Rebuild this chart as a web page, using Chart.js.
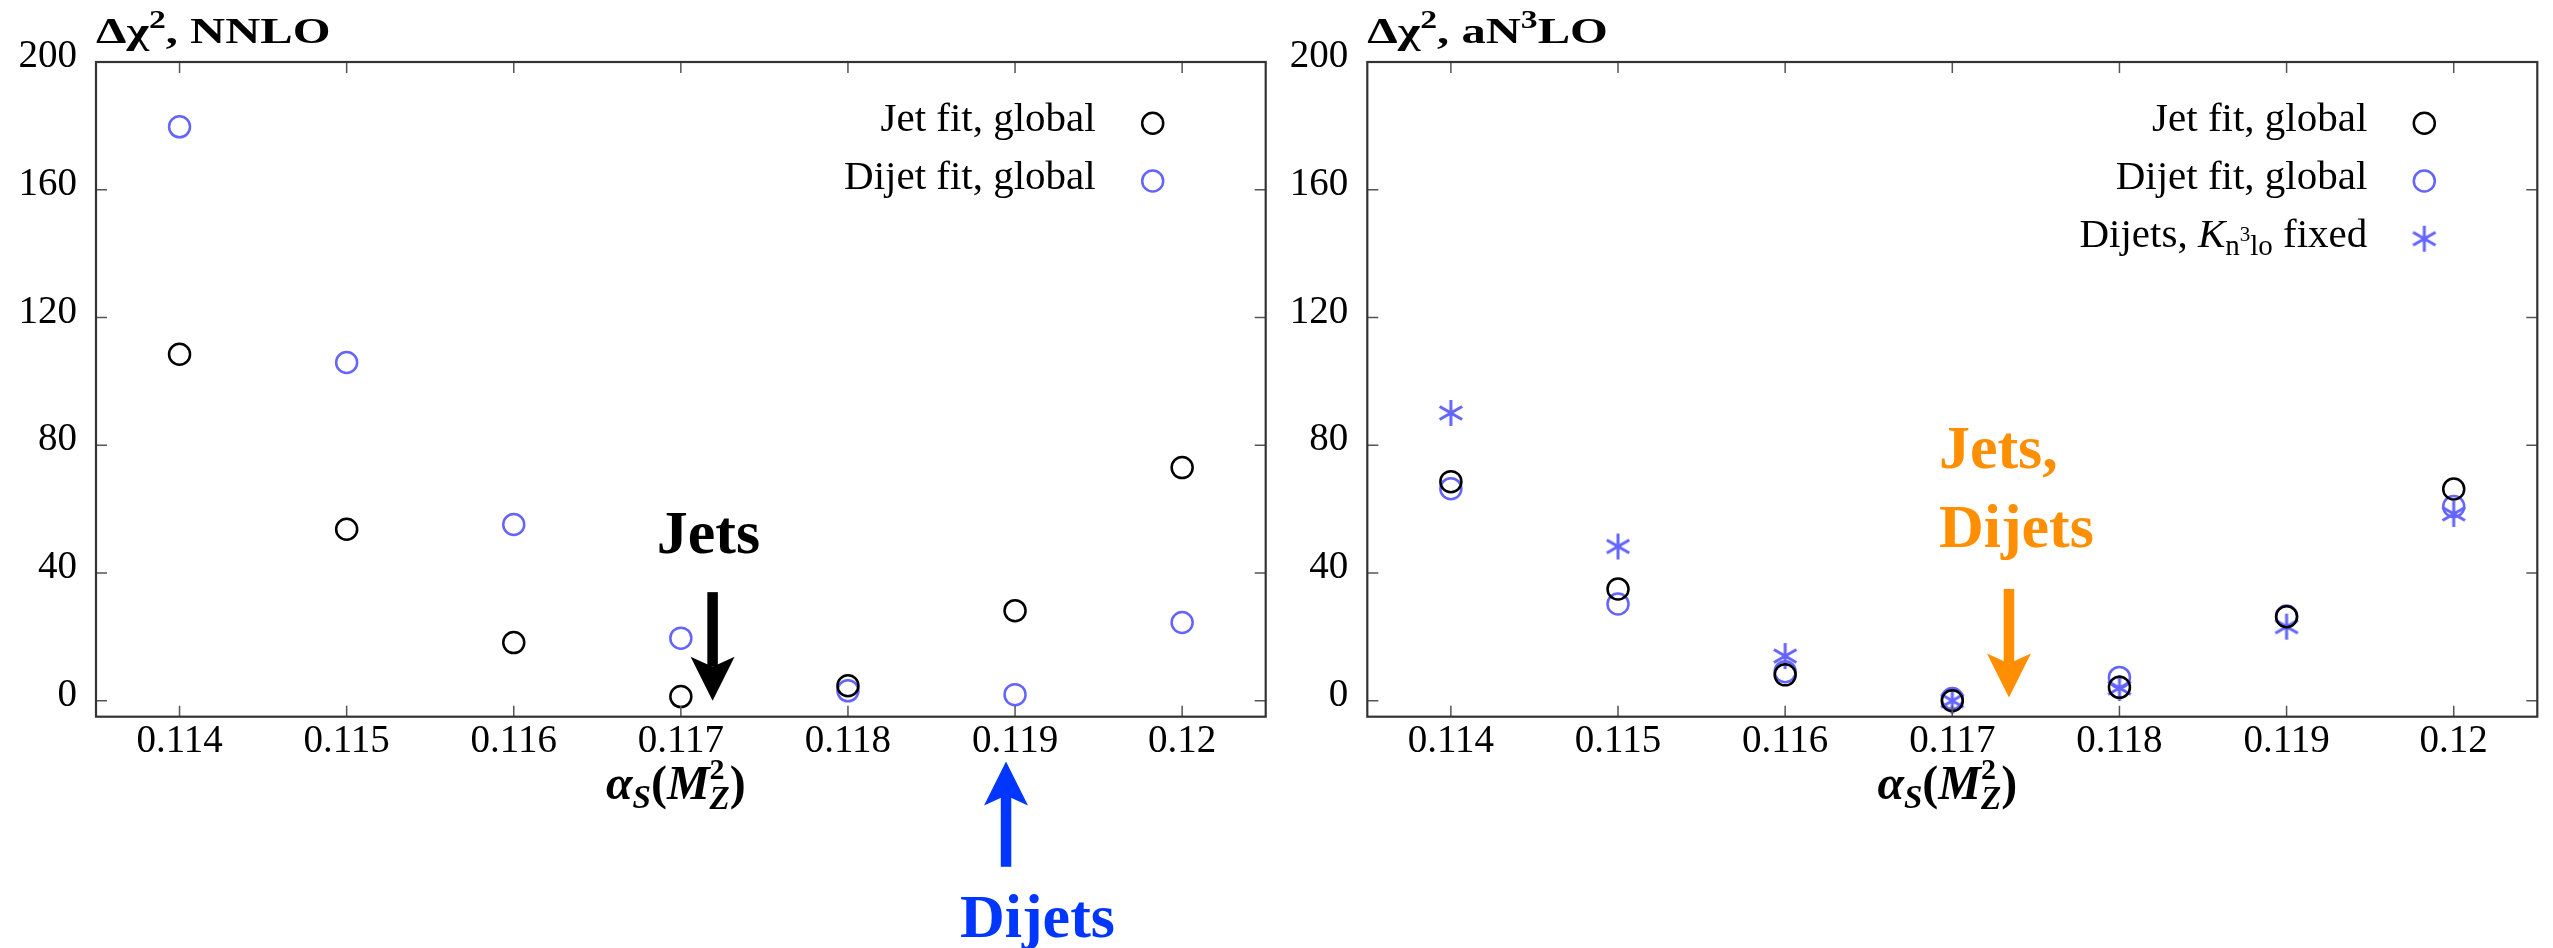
<!DOCTYPE html>
<html>
<head>
<meta charset="utf-8">
<script src="https://cdn.jsdelivr.net/npm/chart.js@4.4.1/dist/chart.umd.min.js"></script>
<style>
  body { margin: 0; background: #fff; }
  .panel { position: absolute; top: 0; height: 948px; }
  #left { left: 0; width: 1280px; }
  #right { left: 1280px; width: 1273px; }
</style>
</head>
<body>
<div class="panel" id="left"><canvas id="nnloChart"></canvas></div>
<div class="panel" id="right"><canvas id="n3loChart"></canvas></div>
<script>
const alphaS = [0.114, 0.115, 0.116, 0.117, 0.118, 0.119, 0.120];
const xTicks = [0.114, 0.115, 0.116, 0.117, 0.118, 0.119, 0.120];
const xTickLabels = ['0.114', '0.115', '0.116', '0.117', '0.118', '0.119', '0.12'];
const yTicks = [0, 40, 80, 120, 160, 200];

// delta chi2 at NNLO
const nnloJetFit = [108.5, 53.7, 18.2, 1.3, 4.7, 28.2, 73.0];
const nnloDijetFit = [179.7, 105.9, 55.2, 19.6, 3.1, 1.9, 24.5];

// delta chi2 at aN3LO
const n3loJetFit = [68.6, 35.0, 8.1, 0.0, 4.2, 26.3, 66.3];
const n3loDijetFit = [66.4, 30.3, 9.1, 0.7, 7.3, 26.5, 60.8];
const n3loDijetFixed = [90.1, 48.3, 14.0, 0.0, 4.0, 23.2, 58.5];

const SERIF = '"Liberation Serif", "DejaVu Serif", serif';
const BLUE = '#6464ff';

function pts(ys) {
	return alphaS.map((x, i) => ({ x: x, y: ys[i] }));
}

// six-armed asterisk marker
function asterisk(color) {
	const c = document.createElement('canvas');
	c.width = 34; c.height = 34;
	const g = c.getContext('2d');
	g.strokeStyle = color;
	g.lineWidth = 3;
	g.beginPath();
	for (let a of [90, 30, -30]) {
		const r = a * Math.PI / 180;
		const dx = Math.cos(r) * 13, dy = Math.sin(r) * 13;
		g.moveTo(17 - dx, 17 - dy);
		g.lineTo(17 + dx, 17 + dy);
	}
	g.stroke();
	return c;
}
const starMark = asterisk(BLUE);

function f(style, size) {
	return `${style || 'normal'} ${size}px ${SERIF}`;
}

// text made of several font runs (sub/superscripts); "over" puts a run above the previous one
function runsLayout(ctx, runs) {
	let w = 0, prevW = 0;
	const items = [];
	for (const r of runs) {
		ctx.font = r.font;
		const rw = ctx.measureText(r.t).width;
		if (r.over) {
			items.push({ r: r, x: w - prevW });
			w += Math.max(0, rw - prevW);
		} else {
			items.push({ r: r, x: w });
			w += rw;
			prevW = rw;
		}
	}
	return { items: items, width: w };
}

function drawRuns(ctx, runs, x, y, align) {
	const lay = runsLayout(ctx, runs);
	let x0 = x;
	if (align === 'right') x0 = x - lay.width;
	if (align === 'center') x0 = x - lay.width / 2;
	ctx.textAlign = 'left';
	ctx.textBaseline = 'alphabetic';
	for (const it of lay.items) {
		ctx.font = it.r.font;
		ctx.fillText(it.r.t, x0 + it.x, y + (it.r.dy || 0));
	}
}

function drawArrow(ctx, x, yTail, yTip, color) {
	const dir = Math.sign(yTip - yTail);
	const headLen = 44, headHalf = 22, notch = 10, shaft = 10.5;
	const yNeck = yTip - dir * (headLen - notch);
	ctx.fillStyle = color;
	ctx.fillRect(x - shaft / 2, Math.min(yTail, yNeck), shaft, Math.abs(yNeck - yTail));
	ctx.beginPath();
	ctx.moveTo(x, yTip);
	ctx.lineTo(x - headHalf, yTip - dir * headLen);
	ctx.lineTo(x, yNeck);
	ctx.lineTo(x + headHalf, yTip - dir * headLen);
	ctx.closePath();
	ctx.fill();
}

const axisTitle = [
	{ t: 'α', font: f('italic bold', 48) },
	{ t: 'S', font: f('italic bold', 33), dy: 9 },
	{ t: '(', font: f('bold', 48) },
	{ t: 'M', font: f('italic bold', 48) },
	{ t: 'Z', font: f('italic bold', 33), dy: 10 },
	{ t: '2', font: f('bold', 30), dy: -20, over: true },
	{ t: ')', font: f('bold', 48) },
];

// closed box with inward ticks on all four sides
const framePlugin = {
	id: 'frame',
	afterDraw(chart) {
		const { ctx, chartArea: ca, scales: { x, y } } = chart;
		ctx.save();
		ctx.strokeStyle = '#555';
		ctx.lineWidth = 1.5;
		ctx.beginPath();
		for (let v of xTicks) {
			const px = x.getPixelForValue(v);
			ctx.moveTo(px, ca.bottom); ctx.lineTo(px, ca.bottom - 11);
			ctx.moveTo(px, ca.top); ctx.lineTo(px, ca.top + 11);
		}
		for (let v of yTicks) {
			const py = y.getPixelForValue(v);
			ctx.moveTo(ca.left, py); ctx.lineTo(ca.left + 11, py);
			ctx.moveTo(ca.right, py); ctx.lineTo(ca.right - 11, py);
		}
		ctx.stroke();
		ctx.strokeStyle = '#333';
		ctx.lineWidth = 2.2;
		ctx.strokeRect(ca.left, ca.top, ca.right - ca.left, ca.bottom - ca.top);
		ctx.restore();
	}
};

// heading, axis title, legend and arrows
const notesPlugin = {
	id: 'notes',
	afterDraw(chart, args, opts) {
		const { ctx, chartArea: ca, scales: { x, y } } = chart;
		ctx.save();
		ctx.fillStyle = '#000';

		ctx.save();
		ctx.translate(ca.left, 43);
		ctx.scale(1.35, 1);
		drawRuns(ctx, opts.heading, 0, 0, 'left');
		ctx.restore();

		drawRuns(ctx, axisTitle, (ca.left + ca.right) / 2 - 5, ca.bottom + 82, 'center');

		chart.data.datasets.forEach((ds, i) => {
			const my = ca.top + 61.3 + i * 57.7;
			const mx = ca.right - 113;
			ctx.fillStyle = '#000';
			drawRuns(ctx, opts.legend[i], mx - 57, my + 8, 'right');
			if (ds.pointStyle === 'circle') {
				ctx.strokeStyle = ds.borderColor;
				ctx.lineWidth = ds.borderWidth;
				ctx.beginPath();
				ctx.arc(mx, my, ds.pointRadius, 0, Math.PI * 2);
				ctx.stroke();
			} else {
				ctx.drawImage(ds.pointStyle, mx - 17, my - 17);
			}
		});

		for (let a of opts.arrows) {
			drawArrow(ctx, x.getPixelForValue(a.x), y.getPixelForValue(a.from), y.getPixelForValue(a.to), a.color);
		}
		for (let w of opts.words) {
			ctx.fillStyle = w.color;
			ctx.font = f('bold', 62);
			ctx.textAlign = w.align;
			ctx.textBaseline = 'alphabetic';
			ctx.fillText(w.text, x.getPixelForValue(w.x), y.getPixelForValue(w.y));
		}
		ctx.restore();
	}
};

function circleSet(label, values, color) {
	return {
		label: label,
		data: pts(values),
		pointStyle: 'circle',
		pointRadius: 10.5,
		borderWidth: 2.5,
		borderColor: color,
		backgroundColor: 'rgba(0,0,0,0)',
		showLine: false,
		clip: false,
	};
}

function makeChart(id, datasets, yAxisWidth, padRight, notes) {
	return new Chart(document.getElementById(id), {
		type: 'scatter',
		data: { datasets: datasets },
		options: {
			responsive: true,
			maintainAspectRatio: false,
			animation: false,
			events: [],
			layout: { padding: { top: 62, right: padRight, left: 0, bottom: 0 } },
			plugins: {
				legend: { display: false },
				tooltip: { enabled: false },
				notes: notes,
			},
			scales: {
				x: {
					type: 'linear',
					min: 0.1135,
					max: 0.1205,
					grid: { display: false, drawTicks: false },
					border: { display: false },
					afterBuildTicks: (s) => { s.ticks = xTicks.map((v) => ({ value: v })); },
					afterFit: (s) => { s.height = 231.3; },
					ticks: {
						font: { family: SERIF, size: 39 },
						color: '#000',
						padding: 2,
						maxRotation: 0,
						autoSkip: false,
						callback: (v, i) => xTickLabels[i],
					},
				},
				y: {
					min: -5,
					max: 200,
					grid: { display: false, drawTicks: false },
					border: { display: false },
					afterBuildTicks: (s) => { s.ticks = yTicks.map((v) => ({ value: v })); },
					afterFit: (s) => { s.width = yAxisWidth; },
					ticks: {
						font: { family: SERIF, size: 39 },
						color: '#000',
						padding: 19,
						labelOffset: -5,
						callback: (v) => String(v),
					},
				},
			},
		},
		plugins: [framePlugin, notesPlugin],
	});
}

const legendJet = [{ t: 'Jet fit, global', font: f('', 41) }];
const legendDijet = [{ t: 'Dijet fit, global', font: f('', 41) }];
const legendFixed = [
	{ t: 'Dijets, ', font: f('', 41) },
	{ t: 'K', font: f('italic', 41) },
	{ t: 'n', font: f('', 29), dy: 8 },
	{ t: '3', font: f('', 21), dy: -6 },
	{ t: 'lo', font: f('', 29), dy: 8 },
	{ t: ' fixed', font: f('', 41) },
];

makeChart('nnloChart', [
	circleSet('Jet fit, global', nnloJetFit, '#000'),
	circleSet('Dijet fit, global', nnloDijetFit, BLUE),
], 96, 14.3, {
	heading: [
		{ t: 'Δχ', font: f('bold', 36) },
		{ t: '2', font: f('bold', 25), dy: -15 },
		{ t: ', NNLO', font: f('bold', 36) },
	],
	legend: [legendJet, legendDijet],
	arrows: [
		{ x: 0.11719, from: 34, to: 0, color: '#000' },
		{ x: 0.118946, from: -52, to: -19, color: '#0036ff' },
	],
	words: [
		{ text: 'Jets', x: 0.117165, y: 46.4, align: 'center', color: '#000' },
		{ text: 'Dijets', x: 0.119134, y: -74, align: 'center', color: '#0036ff' },
	],
});

makeChart('n3loChart', [
	circleSet('Jet fit, global', n3loJetFit, '#000'),
	circleSet('Dijet fit, global', n3loDijetFit, BLUE),
	{
		label: 'Dijets, Kn3lo fixed',
		data: pts(n3loDijetFixed),
		pointStyle: starMark,
		pointRadius: 13,
		showLine: false,
		clip: false,
	},
], 87.3, 15.7, {
	heading: [
		{ t: 'Δχ', font: f('bold', 36) },
		{ t: '2', font: f('bold', 25), dy: -15 },
		{ t: ', aN', font: f('bold', 36) },
		{ t: '3', font: f('bold', 25), dy: -15 },
		{ t: 'LO', font: f('bold', 36) },
	],
	legend: [legendJet, legendDijet, legendFixed],
	arrows: [
		{ x: 0.117339, from: 35, to: 1, color: '#ff8f00' },
	],
	words: [
		{ text: 'Jets,', x: 0.11692, y: 72.9, align: 'left', color: '#ff8f00' },
		{ text: 'Dijets', x: 0.11692, y: 48.1, align: 'left', color: '#ff8f00' },
	],
});
</script>
</body>
</html>
